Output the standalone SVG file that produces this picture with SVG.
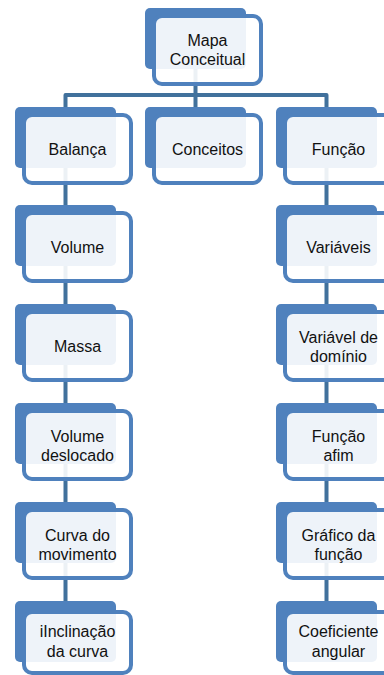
<svg xmlns="http://www.w3.org/2000/svg" width="384" height="675" viewBox="0 0 384 675">
<style>
.bk{fill:#4F81BD;}
.fr{fill:#FFFFFF;fill-opacity:0.9;stroke:#4F81BD;stroke-width:4;}
.t{font-family:"Liberation Sans",Arial,sans-serif;font-size:16px;fill:#111;text-anchor:middle;}
.c{fill:none;stroke:#41719C;stroke-width:4;stroke-linejoin:round;}
</style>
<rect width="384" height="675" fill="#FFFFFF"/>
<g id="connectors">
<path class="c" d="M195.5,60 V95 M65.5,107 V95 H326.5 V107 M195.5,95 V107"/>
<path class="c" d="M65.5,160 V610 M326.5,160 V610"/>
</g>
<g id="n-mapa">
<rect class="bk" x="145" y="8" width="101" height="61" rx="5"/>
<rect class="fr" x="154" y="16" width="107" height="68" rx="8"/>
<text class="t" x="207.5" y="46">Mapa</text>
<text class="t" x="207.5" y="65">Conceitual</text>
</g>
<g id="n-balanca">
<rect class="bk" x="15" y="107" width="101" height="61" rx="5"/>
<rect class="fr" x="24" y="115" width="107" height="68" rx="8"/>
<text class="t" x="77.5" y="155">Balança</text>
</g>
<g id="n-conceitos">
<rect class="bk" x="145" y="107" width="101" height="61" rx="5"/>
<rect class="fr" x="154" y="115" width="107" height="68" rx="8"/>
<text class="t" x="207.5" y="155">Conceitos</text>
</g>
<g id="n-funcao">
<rect class="bk" x="276" y="107" width="101" height="61" rx="5"/>
<rect class="fr" x="285" y="115" width="107" height="68" rx="8"/>
<text class="t" x="338.5" y="155">Função</text>
</g>
<g id="n-volume">
<rect class="bk" x="15" y="205" width="101" height="61" rx="5"/>
<rect class="fr" x="24" y="213" width="107" height="68" rx="8"/>
<text class="t" x="77.5" y="253">Volume</text>
</g>
<g id="n-massa">
<rect class="bk" x="15" y="304" width="101" height="61" rx="5"/>
<rect class="fr" x="24" y="312" width="107" height="68" rx="8"/>
<text class="t" x="77.5" y="352">Massa</text>
</g>
<g id="n-volume-deslocado">
<rect class="bk" x="15" y="403" width="101" height="61" rx="5"/>
<rect class="fr" x="24" y="411" width="107" height="68" rx="8"/>
<text class="t" x="77.5" y="442">Volume</text>
<text class="t" x="77.5" y="461">deslocado</text>
</g>
<g id="n-curva">
<rect class="bk" x="15" y="502" width="101" height="61" rx="5"/>
<rect class="fr" x="24" y="510" width="107" height="68" rx="8"/>
<text class="t" x="77.5" y="541">Curva do</text>
<text class="t" x="77.5" y="560">movimento</text>
</g>
<g id="n-inclinacao">
<rect class="bk" x="15" y="601" width="101" height="61" rx="5"/>
<rect class="fr" x="24" y="612" width="107" height="61" rx="8"/>
<text class="t" x="77.5" y="637">iInclinação</text>
<text class="t" x="77.5" y="657">da curva</text>
</g>
<g id="n-variaveis">
<rect class="bk" x="276" y="205" width="101" height="61" rx="5"/>
<rect class="fr" x="285" y="213" width="107" height="68" rx="8"/>
<text class="t" x="338.5" y="253">Variáveis</text>
</g>
<g id="n-variavel-dominio">
<rect class="bk" x="276" y="304" width="101" height="61" rx="5"/>
<rect class="fr" x="285" y="312" width="107" height="68" rx="8"/>
<text class="t" x="338.5" y="343">Variável de</text>
<text class="t" x="338.5" y="362">domínio</text>
</g>
<g id="n-funcao-afim">
<rect class="bk" x="276" y="403" width="101" height="61" rx="5"/>
<rect class="fr" x="285" y="411" width="107" height="68" rx="8"/>
<text class="t" x="338.5" y="442">Função</text>
<text class="t" x="338.5" y="461">afim</text>
</g>
<g id="n-grafico">
<rect class="bk" x="276" y="502" width="101" height="61" rx="5"/>
<rect class="fr" x="285" y="510" width="107" height="68" rx="8"/>
<text class="t" x="338.5" y="541">Gráfico da</text>
<text class="t" x="338.5" y="560">função</text>
</g>
<g id="n-coeficiente">
<rect class="bk" x="276" y="601" width="101" height="61" rx="5"/>
<rect class="fr" x="285" y="612" width="107" height="61" rx="8"/>
<text class="t" x="338.5" y="637">Coeficiente</text>
<text class="t" x="338.5" y="657">angular</text>
</g>
</svg>
